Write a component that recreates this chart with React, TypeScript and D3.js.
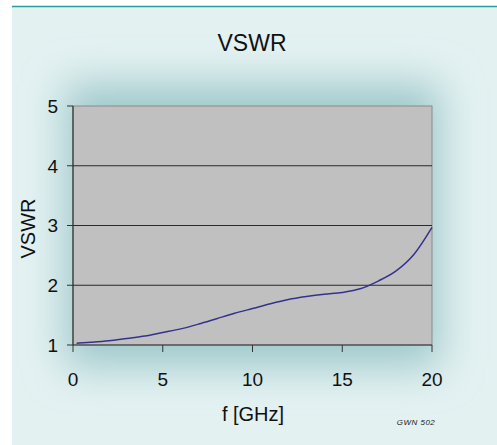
import React from "react";
import * as d3 from "d3";

const freqGHz = [0.2, 1, 2, 3, 4, 5, 6, 7, 8, 9, 10, 11, 12, 13, 14, 15, 16, 17, 18, 19, 20];
const vswr = [1.03, 1.045, 1.07, 1.11, 1.15, 1.21, 1.27, 1.35, 1.44, 1.53, 1.61, 1.69, 1.76, 1.81, 1.85, 1.88, 1.94, 2.07, 2.24, 2.52, 2.97];
const xTicks = [0, 5, 10, 15, 20];
const yTicks = [1, 2, 3, 4, 5];

const W = 497;
const H = 445;
const M = { left: 73, top: 106, right: 432, bottom: 345 };
const FONT = "'Liberation Sans', Arial, sans-serif";

export default function App() {
  const x = d3.scaleLinear().domain([0, 20]).range([M.left, M.right]);
  const y = d3.scaleLinear().domain([1, 5]).range([M.bottom, M.top]);
  const line = d3
    .line<number>()
    .x((_, i) => x(freqGHz[i]))
    .y((d) => y(d))
    .curve(d3.curveMonotoneX);
  const pw = M.right - M.left;
  const ph = M.bottom - M.top;

  return (
    <div style={{ position: "absolute", left: 0, top: 0 }}>
      <svg width={W} height={H} style={{ display: "block", background: "#ffffff" }}>
        <defs>
          <filter id="glow" x="-50%" y="-50%" width="200%" height="200%">
            <feGaussianBlur stdDeviation="20" />
          </filter>
          <clipPath id="frameClip">
            <rect x={12} y={6} width={W - 12} height={H - 6} />
          </clipPath>
        </defs>
        <g clipPath="url(#frameClip)">
          <rect x={12} y={6} width={W - 12} height={H - 6} fill="#e3f1f1" />
          <rect
            x={M.left - 8}
            y={M.top - 22}
            width={pw + 16}
            height={ph + 44}
            fill="#9fc8cb"
            filter="url(#glow)"
          />
        </g>
        <line x1={12} x2={W} y1={6.5} y2={6.5} stroke="#2f9c9c" strokeWidth={1.5} />

        {/* plot area */}
        <rect x={M.left} y={M.top} width={pw} height={ph} fill="#c0c0c0" stroke="#8a8a8a" strokeWidth={1} />
        {yTicks.slice(1, -1).map((t) => (
          <line key={t} x1={M.left} x2={M.right} y1={y(t)} y2={y(t)} stroke="#2a2a2a" strokeWidth={1.2} />
        ))}

        {/* axes */}
        <line x1={M.left} x2={M.left} y1={M.top} y2={M.bottom} stroke="#333" strokeWidth={1.2} />
        <line x1={M.left} x2={M.right} y1={M.bottom} y2={M.bottom} stroke="#333" strokeWidth={1.2} />
        {yTicks.map((t) => (
          <g key={t}>
            <line x1={M.left - 6} x2={M.left} y1={y(t)} y2={y(t)} stroke="#333" strokeWidth={1} />
            <text x={58} y={y(t)} dy="0.36em" textAnchor="end" fontFamily={FONT} fontSize={19} fill="#111">
              {t}
            </text>
          </g>
        ))}
        {xTicks.map((t) => (
          <g key={t}>
            <line x1={x(t)} x2={x(t)} y1={M.bottom} y2={M.bottom + 7} stroke="#333" strokeWidth={1} />
            <text x={x(t)} y={379} dy="0.36em" textAnchor="middle" fontFamily={FONT} fontSize={19} fill="#111">
              {t}
            </text>
          </g>
        ))}

        {/* curve */}
        <path d={line(vswr) || ""} fill="none" stroke="#33338f" strokeWidth={1.5} />

        {/* titles */}
        <text x={252} y={43} dy="0.36em" textAnchor="middle" fontFamily={FONT} fontSize={23} fill="#111">
          VSWR
        </text>
        <text x={253} y={414} dy="0.36em" textAnchor="middle" fontFamily={FONT} fontSize={20} fill="#111">
          f [GHz]
        </text>
        <text
          transform={`translate(28,${(M.top + M.bottom) / 2 + 3}) rotate(-90)`}
          dy="0.36em"
          textAnchor="middle"
          fontFamily={FONT}
          fontSize={20}
          fill="#111"
        >
          VSWR
        </text>
        <text x={416} y={422} dy="0.36em" textAnchor="middle" fontFamily={FONT} fontSize={8} fontStyle="italic" letterSpacing={0.5} fill="#222">
          GWN 502
        </text>
      </svg>
    </div>
  );
}
